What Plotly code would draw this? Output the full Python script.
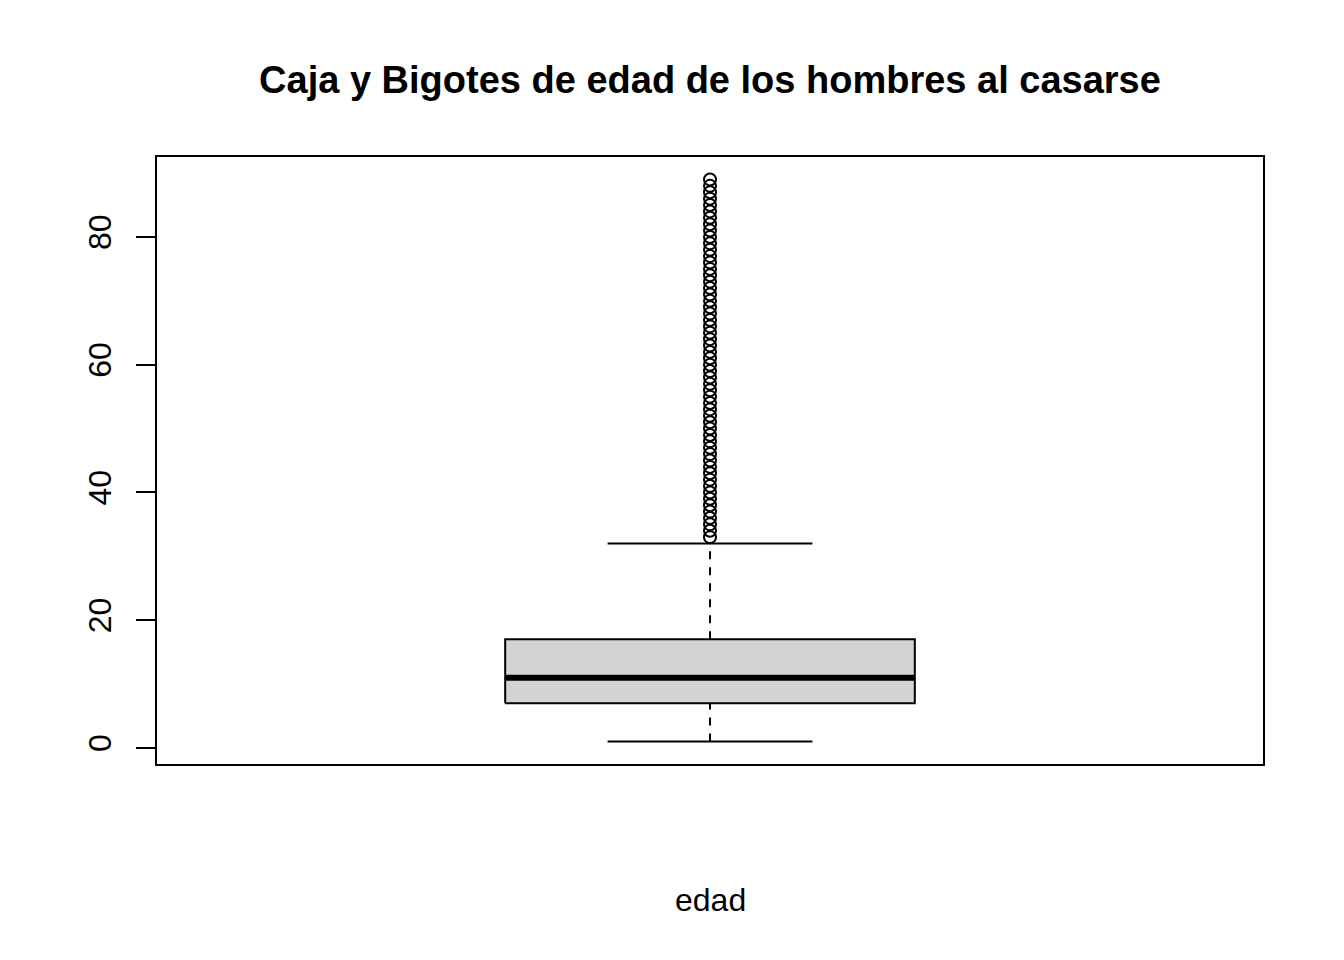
import plotly.graph_objects as go

# ---- data ----
variable = "edad"
title_text = "Caja y Bigotes de edad de los hombres al casarse"
lower_whisker = 1
q1 = 7
median = 11
q3 = 17
upper_whisker = 32
outliers = list(range(33, 90))  # ages 33..89 shown as individual points
y_ticks = [0, 20, 40, 60, 80]

# ---- geometry / style (not data) ----
xc = 1.0
box_half = 0.2
cap_half = 0.1
ymin_d, ymax_d = lower_whisker, max(outliers)
pad = 0.04 * (ymax_d - ymin_d)

W, H = 1336, 952
L, T, R, B = 149, 149, 81, 196

fig = go.Figure()

# box
fig.add_trace(go.Scatter(
    x=[xc - box_half, xc + box_half, xc + box_half, xc - box_half, xc - box_half],
    y=[q1, q1, q3, q3, q1],
    mode="lines", fill="toself", fillcolor="#d3d3d3",
    line=dict(color="black", width=2), hoverinfo="skip", showlegend=False))
# median
fig.add_trace(go.Scatter(
    x=[xc - box_half, xc + box_half], y=[median, median], mode="lines",
    line=dict(color="black", width=6), hoverinfo="skip", showlegend=False))
# whiskers (dashed)
for a, b in [(lower_whisker, q1), (q3, upper_whisker)]:
    fig.add_trace(go.Scatter(
        x=[xc, xc], y=[a, b], mode="lines",
        line=dict(color="black", width=2, dash="8px,8px"),
        hoverinfo="skip", showlegend=False))
# staples
for v in [lower_whisker, upper_whisker]:
    fig.add_trace(go.Scatter(
        x=[xc - cap_half, xc + cap_half], y=[v, v], mode="lines",
        line=dict(color="black", width=2), hoverinfo="skip", showlegend=False))
# outliers
fig.add_trace(go.Scatter(
    x=[xc] * len(outliers), y=outliers, mode="markers",
    marker=dict(symbol="circle-open", size=12, color="black", line=dict(width=2)),
    showlegend=False))

fig.update_layout(
    width=W, height=H,
    margin=dict(l=L, r=R, t=T, b=B),
    plot_bgcolor="white", paper_bgcolor="white",
    font=dict(family="Liberation Sans, Arial, sans-serif", color="black", size=32),
    title=dict(text="<b>" + title_text + "</b>", x=(L + (W - R)) / 2 / W, xanchor="center",
               xref="container", yref="container", y=1 - 72 / H, yanchor="middle",
               font=dict(size=38, color="black")),
    showlegend=False,
)
fig.update_xaxes(range=[0.46, 1.54], showticklabels=False, ticks="", showgrid=False,
                 zeroline=False, showline=True, linecolor="black", linewidth=2, mirror=True,
                 fixedrange=True)
fig.update_yaxes(range=[ymin_d - pad, ymax_d + pad], tickvals=y_ticks,
                 ticktext=[str(t) for t in y_ticks], tickangle=-90,
                 ticks="outside", ticklen=19, tickwidth=2, tickcolor="black",
                 ticklabelstandoff=12,
                 showgrid=False, zeroline=False, showline=True, linecolor="black",
                 linewidth=2, mirror=True, tickfont=dict(size=32))
plot_h = H - T - B
fig.add_annotation(text=variable, xref="paper", yref="paper", x=0.5, y=-(892 - (H - B)) / plot_h,
                   xanchor="center", yanchor="middle", showarrow=False, font=dict(size=32))

fig.write_html("out.html")
